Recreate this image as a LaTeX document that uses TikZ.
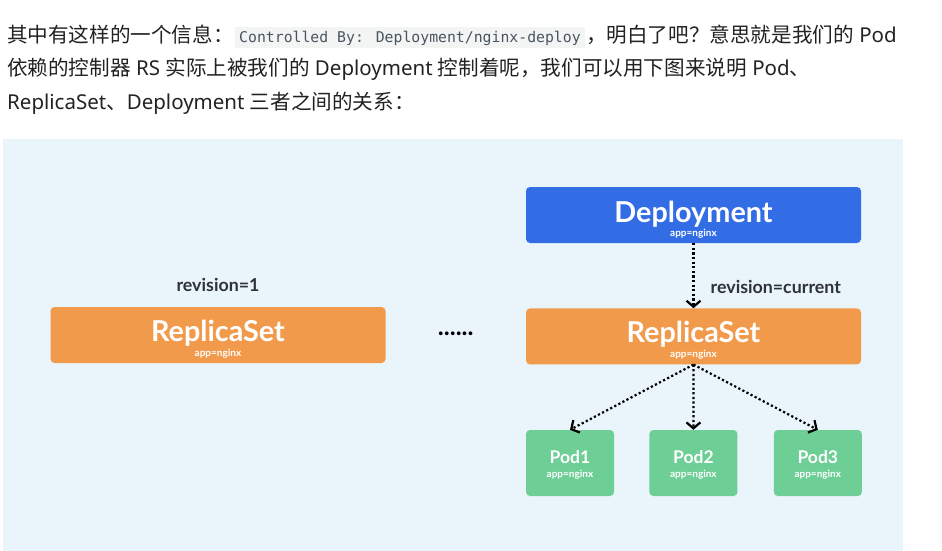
\documentclass[tikz,border=0pt]{standalone}
\usepackage{fontspec}
\setmainfont{Noto Sans}
\newfontfamily\cjk{Noto Sans CJK SC}
\newfontfamily\codefont{DejaVu Sans Mono}
\newfontfamily\diagfont{Lato}
\newcommand{\zh}[1]{{\cjk\fontsize{20.6}{20.6}\selectfont #1}}
\usetikzlibrary{positioning,arrows.meta,calc}
\definecolor{panelbg}{HTML}{EAF4FB}
\definecolor{depblue}{HTML}{326DE6}
\definecolor{rsorange}{HTML}{F29A4B}
\definecolor{podgreen}{HTML}{6DCE96}
\definecolor{inkblack}{HTML}{222222}
\definecolor{revgray}{HTML}{2E3338}
\definecolor{codebg}{HTML}{F3F4F4}
\definecolor{codeink}{HTML}{4A5560}
\begin{document}
\begin{tikzpicture}[x=1pt,y=-1pt,
  bodytxt/.style={font=\rmfamily\fontsize{20.5}{20.5}\selectfont, text=inkblack, inner sep=0},
  codebox/.style={font=\codefont\fontsize{14.8}{14.8}\selectfont, text=codeink, fill=codebg, inner xsep=4pt, inner ysep=3pt, text height=13pt, text depth=2pt},
  box/.style={rounded corners=4pt, minimum width=335pt, minimum height=56pt, inner sep=0},
  deploy/.style={box, fill=depblue},
  rs/.style={box, fill=rsorange},
  pod/.style={rounded corners=4pt, fill=podgreen, minimum width=88pt, minimum height=66pt, inner sep=0},
  titletxt/.style={text=white, font=\diagfont\bfseries\fontsize{28.8}{28.8}\selectfont, anchor=base, inner sep=0},
  podtxt/.style={text=white, font=\diagfont\bfseries\fontsize{17.5}{17.5}\selectfont, anchor=base, inner sep=0},
  tagtxt/.style={text=white, font=\diagfont\bfseries\fontsize{10}{10}\selectfont, anchor=base, inner sep=0},
  revtxt/.style={text=revgray, font=\diagfont\bfseries\fontsize{17.8}{17.8}\selectfont, anchor=base, inner sep=0},
  link/.style={line width=2.2pt, dash pattern=on 2.2pt off 2.4pt, -{Straight Barb[length=6pt,width=14pt]}},
]
\useasboundingbox (0,0) rectangle (942,551);

\node[bodytxt, anchor=base west] (l1a) at (7,43) {\zh{其中有这样的一个信息：}};
\node[codebox, base right=1pt of l1a] (code) {Controlled By: Deployment/nginx-deploy};
\node[bodytxt, base right=1pt of code] (l1b) {\zh{，明白了吧？意思就是我们的} Pod};
\node[bodytxt, anchor=base west] (l2) at (7,76) {\zh{依赖的控制器} RS \zh{实际上被我们的} Deployment \zh{控制着呢，我们可以用下图来说明} Pod\zh{、}};
\node[bodytxt, anchor=base west] (l3) at (7,109) {ReplicaSet\zh{、}Deployment \zh{三者之间的关系：}};

\fill[panelbg] (3,139) rectangle (903,551);

\node[deploy] (dep) at (693.5,215) {};
\node[titletxt] (deptitle) at ([yshift=-7pt]dep.center) {Deployment};
\node[tagtxt] (deptag) at ([yshift=-21pt]dep.center) {app=nginx};

\node[rs, below=65pt of dep] (rsnew) {};
\node[titletxt] (rsnewtitle) at ([yshift=-6pt]rsnew.center) {ReplicaSet};
\node[tagtxt] (rsnewtag) at ([yshift=-21pt]rsnew.center) {app=nginx};
\node[revtxt, anchor=base west] (revnow) at ([xshift=17pt,yshift=15pt]rsnew.north) {revision=current};

\node[rs] (rsold) at (218,335) {};
\node[titletxt] (rsoldtitle) at ([yshift=-6pt]rsold.center) {ReplicaSet};
\node[tagtxt] (rsoldtag) at ([yshift=-21pt]rsold.center) {app=nginx};
\node[revtxt] (revold) at ([yshift=15pt]rsold.north) {revision=1};

\node[font=\diagfont\bfseries\fontsize{25}{25}\selectfont, anchor=base, inner sep=0] (gap) at ($(rsold.east)!0.5!(rsnew.west)$) {......};

\node[pod] (pod1) at (570,463) {};
\node[pod, right=35pt of pod1] (pod2) {};
\node[pod, right=36pt of pod2] (pod3) {};

\draw[link] (dep.south) -- (rsnew.north);
\foreach \i in {1,2,3} {
  \node[podtxt] (pod\i name) at (pod\i.center) {Pod\i};
  \node[tagtxt] (pod\i tag) at ([yshift=-14pt]pod\i.center) {app=nginx};
  \draw[link] (rsnew.south) -- (pod\i.north);
}
\end{tikzpicture}
\end{document}
